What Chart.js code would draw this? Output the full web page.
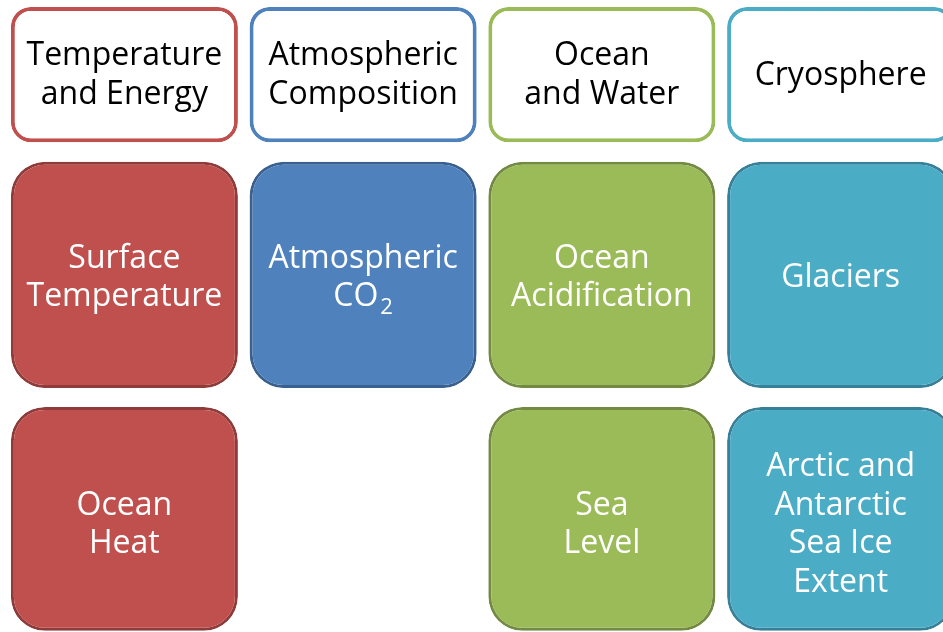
<!DOCTYPE html>
<html>

<head>
  <meta charset="UTF-8">
  <title>Climate indicators</title>
  <script src="https://cdn.jsdelivr.net/npm/chart.js@4"></script>
  <style>
    html, body {
      margin: 0;
      padding: 0;
      overflow: hidden;
      background: #ffffff;
    }
  </style>
</head>

<body>

  <canvas id="grid" width="960" height="632"></canvas>

  <script>
    // column headings and the indicator boxes under them ("_" marks a subscript)
    var groups = ["Temperature\nand Energy", "Atmospheric\nComposition", "Ocean\nand Water", "Cryosphere"];
    var row1Items = ["Surface\nTemperature", "Atmospheric\nCO_2", "Ocean\nAcidification", "Glaciers"];
    var row2Items = ["Ocean\nHeat", null, "Sea\nLevel", "Arctic and\nAntarctic\nSea Ice\nExtent"];

    // vertical span of each row, in percent of the sheet height (top = 0)
    var headerSpan = [1.1, 22.5];
    var row1Span = [25.6, 61.4];
    var row2Span = [64.4, 99.8];

    var fillColors = ["#C0504D", "#4F81BD", "#9BBB59", "#4BACC6"];
    var edgeColors = ["#8E3B39", "#3A6090", "#728A41", "#37809A"];

    function spans(items, span) {
      return items.map(function (item) { return item === null ? null : span; });
    }

    var sheet = new Chart("grid", {
      type: "bar",
      data: {
        labels: groups,
        datasets: [{
          label: "groups",
          data: spans(groups, headerSpan),
          backgroundColor: "#ffffff",
          borderColor: fillColors,
          borderWidth: 4,
          borderRadius: 20,
          texts: groups,
          textColor: "#000000",
          shift: 1
        }, {
          label: "row1",
          data: spans(row1Items, row1Span),
          backgroundColor: fillColors,
          borderColor: edgeColors,
          borderWidth: 3,
          borderRadius: 34,
          texts: row1Items,
          textColor: "#ffffff",
          shift: 3
        }, {
          label: "row2",
          data: spans(row2Items, row2Span),
          backgroundColor: fillColors,
          borderColor: edgeColors,
          borderWidth: 3,
          borderRadius: 34,
          texts: row2Items,
          textColor: "#ffffff",
          shift: 6
        }]
      },
      options: {
        responsive: false,
        animation: false,
        layout: { padding: { left: 5, right: 0, top: 0, bottom: 0 } },
        datasets: {
          bar: {
            grouped: false,
            categoryPercentage: 1,
            barPercentage: 0.951,
            borderSkipped: false,
            inflateAmount: 0
          }
        },
        scales: {
          x: { display: false },
          y: { display: false, min: 0, max: 100, reverse: true }
        },
        plugins: {
          legend: { display: false },
          tooltip: { enabled: false }
        }
      },
      plugins: [{
        id: "boxText",
        afterDatasetsDraw: function (chart) {
          var ctx = chart.ctx;
          var size = 32, lineH = 38.5;
          chart.data.datasets.forEach(function (ds, d) {
            var meta = chart.getDatasetMeta(d);
            meta.data.forEach(function (bar, i) {
              var txt = ds.texts[i];
              if (!txt || ds.data[i] === null) return;
              var lines = txt.split("\n");
              var cy = (bar.y + bar.base) / 2 + ds.shift;
              ctx.save();
              ctx.fillStyle = ds.textColor;
              ctx.textBaseline = "middle";
              ctx.textAlign = "left";
              lines.forEach(function (line, k) {
                var ly = cy + (k - (lines.length - 1) / 2) * lineH;
                var parts = line.split("_");
                ctx.font = size + "px 'Open Sans'";
                var w1 = ctx.measureText(parts[0]).width;
                var w2 = 0;
                if (parts[1]) {
                  ctx.font = "22px 'Open Sans'";
                  w2 = ctx.measureText(parts[1]).width + 2;
                }
                var x0 = bar.x - (w1 + w2) / 2;
                ctx.font = size + "px 'Open Sans'";
                ctx.fillText(parts[0], x0, ly);
                if (parts[1]) {
                  ctx.font = "22px 'Open Sans'";
                  ctx.fillText(parts[1], x0 + w1 + 2, ly + 11);
                }
              });
              ctx.restore();
            });
          });
        }
      }]
    });
  </script>

</body>

</html>
